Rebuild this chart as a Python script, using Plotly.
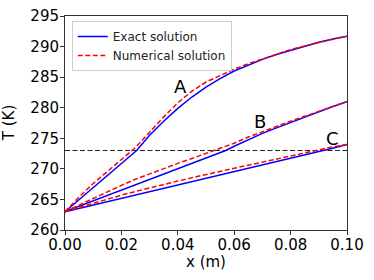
import plotly.graph_objects as go

# Numerical solution grid (m)
x_num = [0.0, 0.005, 0.01, 0.015, 0.02, 0.025, 0.03, 0.035, 0.04, 0.045, 0.05,
         0.055, 0.06, 0.065, 0.07, 0.075, 0.08, 0.085, 0.09, 0.095, 0.1]
num_A = [263.0, 265.4, 267.6, 269.6, 271.5, 273.5, 276.0, 278.5, 280.8, 282.7, 284.2,
         285.3, 286.3, 287.2, 288.0, 288.8, 289.5, 290.1, 290.7, 291.2, 291.7]
num_B = [263.0, 264.1, 265.2, 266.3, 267.3, 268.3, 269.2, 270.1, 270.9, 271.7, 272.5,
         273.3, 274.2, 275.2, 276.1, 277.0, 277.8, 278.6, 279.4, 280.2, 281.0]
num_C = [263.0, 263.7, 264.4, 265.05, 265.7, 266.3, 266.9, 267.45, 268.0, 268.55, 269.1,
         269.6, 270.1, 270.6, 271.1, 271.6, 272.2, 272.7, 273.2, 273.6, 274.0]

# Exact solutions (kink at the phase-change front)
x_exact_A = [0.0, 0.0254, 0.03, 0.035, 0.04, 0.045, 0.05, 0.055, 0.06, 0.065, 0.07,
             0.075, 0.08, 0.085, 0.09, 0.095, 0.1]
exact_A = [263.0, 273.0, 275.5, 277.8, 279.9, 281.75, 283.35, 284.75, 286.0, 287.0, 287.9,
           288.7, 289.4, 290.1, 290.7, 291.25, 291.7]
x_exact_B = [0.0, 0.057, 0.06, 0.065, 0.07, 0.075, 0.08, 0.085, 0.09, 0.095, 0.1]
exact_B = [263.0, 273.0, 273.7, 274.8, 275.8, 276.7, 277.6, 278.5, 279.3, 280.2, 281.0]
x_exact_C = [0.0, 0.092, 0.096, 0.1]
exact_C = [263.0, 273.0, 273.5, 274.0]

# Melting temperature line
x_melt = [0.0, 0.1]
T_melt = [273.0, 273.0]

# Curve labels
label_text = ["A", "B", "C"]
label_x = [0.0408, 0.0692, 0.0947]
label_y = [283.4, 277.8, 274.95]

x_ticks = [0.0, 0.02, 0.04, 0.06, 0.08, 0.1]
x_tick_text = ["0.00", "0.02", "0.04", "0.06", "0.08", "0.10"]
y_ticks = [260, 265, 270, 275, 280, 285, 290, 295]
x_title = "x (m)"
y_title = "T (K)"

font_family = "DejaVu Sans"
fig = go.Figure()

fig.add_trace(go.Scatter(x=x_melt, y=T_melt, mode="lines", showlegend=False,
                         line=dict(color="#222222", width=1.2, dash="5px,2.5px")))

for i, (xe, ye, yn) in enumerate([(x_exact_A, exact_A, num_A),
                                   (x_exact_B, exact_B, num_B),
                                   (x_exact_C, exact_C, num_C)]):
    fig.add_trace(go.Scatter(x=xe, y=ye, mode="lines", name="Exact solution",
                             legendgroup="exact", showlegend=(i == 0),
                             line=dict(color="#0000ff", width=1.5)))
    fig.add_trace(go.Scatter(x=x_num, y=yn, mode="lines", name="Numerical solution",
                             legendgroup="num", showlegend=(i == 0),
                             line=dict(color="#ff0000", width=1.5, dash="5px,2.5px")))

for t, lx, ly in zip(label_text, label_x, label_y):
    fig.add_annotation(x=lx, y=ly, text=t, showarrow=False,
                       font=dict(family=font_family, size=18, color="black"))

# axis titles
fig.add_annotation(x=0.5, y=-0.15, xref="paper", yref="paper", text=x_title,
                   showarrow=False, xanchor="center", yanchor="middle",
                   font=dict(family=font_family, size=15, color="black"))
fig.add_annotation(x=-0.198, y=0.5, xref="paper", yref="paper", text=y_title,
                   showarrow=False, xanchor="center", yanchor="middle", textangle=-90,
                   font=dict(family=font_family, size=15, color="black"))

axis_common = dict(showgrid=False, zeroline=False, showline=True, mirror=True,
                   linecolor="#333333", linewidth=1, ticks="outside", ticklen=4,
                   tickcolor="#333333", automargin=False, ticklabeloverflow="allow",
                   tickfont=dict(family=font_family, size=15, color="black"))

fig.update_xaxes(range=[0.0, 0.1], tickvals=x_ticks, ticktext=x_tick_text,
                 ticklabelstandoff=-3, **axis_common)
fig.update_yaxes(range=[260, 295], tickvals=y_ticks, ticklabelstandoff=-2,
                 **axis_common)

fig.update_layout(
    width=374, height=280,
    margin=dict(l=65, r=27, t=16, b=50),
    plot_bgcolor="white", paper_bgcolor="white",
    font=dict(family=font_family, color="black"),
    legend=dict(x=0.024, y=0.977, xanchor="left", yanchor="top",
                bgcolor="rgba(255,255,255,0.85)", bordercolor="#cccccc", borderwidth=1,
                font=dict(family=font_family, size=12, color="#222222"),
                tracegroupgap=0, itemwidth=30),
)

fig.write_html("out.html", config={"displayModeBar": False},
               post_script="document.body.style.margin='0px';")
